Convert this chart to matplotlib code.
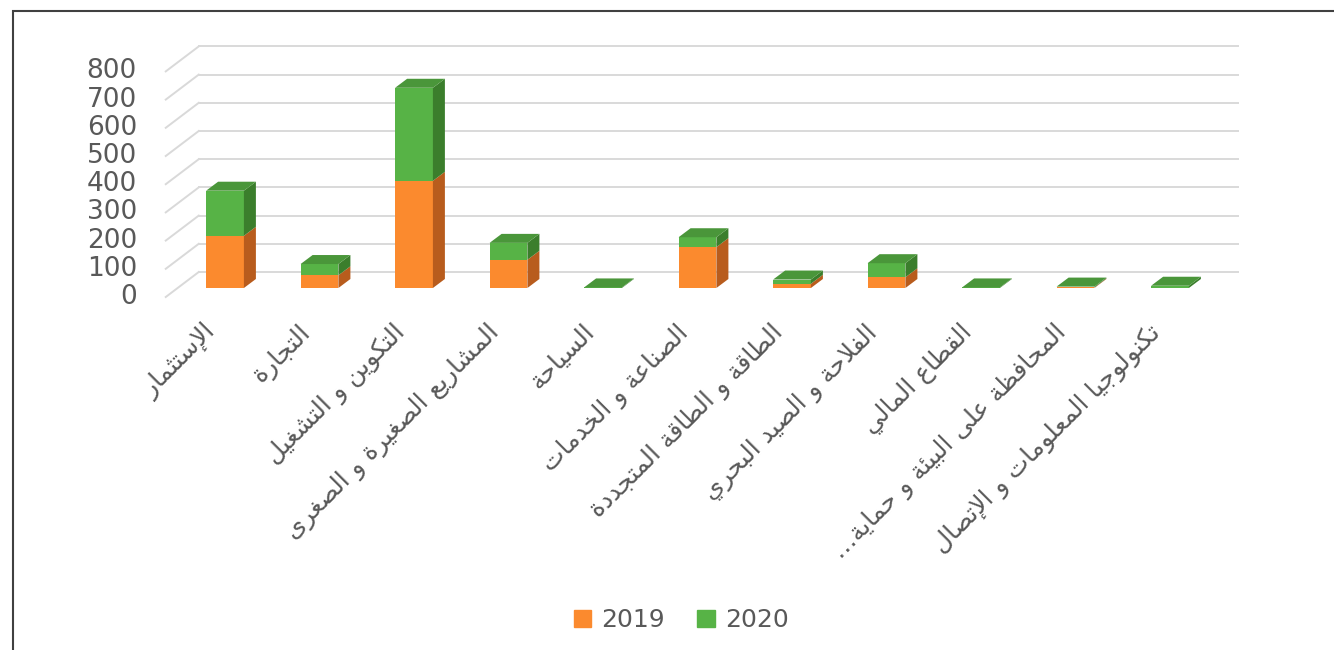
import matplotlib
matplotlib.use("Agg")
import matplotlib.pyplot as plt
from matplotlib.patches import Polygon, Patch, Rectangle

categories = [
    "الإستثمار",
    "التجارة",
    "التكوين و التشغيل",
    "المشاريع الصغيرة و الصغرى",
    "السياحة",
    "الصناعة و الخدمات",
    "الطاقة و الطاقة المتجددة",
    "الفلاحة و الصيد البحري",
    "القطاع المالي",
    "المحافظة على البيئة و حماية…",
    "تكنولوجيا المعلومات و الإتصال",
]
series_names = ["2019", "2020"]
values_2019 = [185, 45, 380, 100, 0, 145, 15, 38, 0, 2, 0]
values_2020 = [160, 40, 330, 60, 2, 35, 15, 50, 2, 3, 8]
y_ticks = [0, 100, 200, 300, 400, 500, 600, 700, 800]

orange = "#FB8A2E"
orange_side = "#B85C1D"
green = "#57B346"
green_top = "#4A963A"
green_side = "#3B7E2C"
text_gray = "#595959"


# --- tiny arabic shaper (matplotlib 3.10 does no shaping) ---
_counts = [1, 2, 2, 2, 2, 4, 2, 4, 2, 4, 4, 4, 4, 4, 2, 2, 2, 2, 4, 4, 4, 4, 4, 4, 4, 4,
           4, 4, 4, 4, 4, 4, 4, 2, 2, 4]
_codes = list(range(0x621, 0x63B)) + list(range(0x641, 0x64B))
FORMS = {}
_pos = 0xFE80
for cp, n in zip(_codes, _counts):
    FORMS[chr(cp)] = (_pos, n)
    _pos += n
LAM_ALEF = {"ا": 0xFEFB, "إ": 0xFEF9, "أ": 0xFEF7, "آ": 0xFEF5}


def shape(text):
    tokens = []
    i = 0
    while i < len(text):
        c = text[i]
        if c == "ل" and i + 1 < len(text) and text[i + 1] in LAM_ALEF:
            tokens.append((LAM_ALEF[text[i + 1]], 2))
            i += 2
            continue
        if c in FORMS:
            tokens.append(FORMS[c])
        else:
            tokens.append((c, 0))
        i += 1
    out = []
    for k, (base, n) in enumerate(tokens):
        if n == 0:
            out.append(base)
            continue
        prev_j = k > 0 and tokens[k - 1][1] == 4 and n >= 2
        next_j = n == 4 and k + 1 < len(tokens) and tokens[k + 1][1] >= 2
        if n == 4:
            off = 3 if (prev_j and next_j) else 1 if prev_j else 2 if next_j else 0
        elif n == 2:
            off = 1 if prev_j else 0
        else:
            off = 0
        out.append(chr(base + off))
    return "".join(reversed(out))


W, H = 1334, 650
fig = plt.figure(figsize=(W / 100, H / 100), dpi=100)
ax = fig.add_axes([177.75 / W, 362 / H, 1039.5 / W, 225.6 / H])
ax.set_xlim(-0.5, 10.5)
ax.set_ylim(0, 800)
ax.axis("off")

sx = 1039.5 / 11      # px per category
sy = 225.6 / 800      # px per unit
ddx, ddy = 12 / sx, 9 / sy   # bar depth
w = 0.4
x = list(range(len(categories)))

# back wall grid + floor diagonals
for v in y_ticks:
    bx, by = -0.5 + 21 / sx, v + 16 / sy
    ax.plot([bx, 10.5 + 21 / sx], [by, by], color="#D9D9D9", lw=1.4, clip_on=False, zorder=0)
    ax.plot([-0.5 - 12 / sx, bx], [v - 9 / sy, by], color="#D9D9D9", lw=1.4, clip_on=False, zorder=0)
    ax.text((137 - 225) / sx, v - 9 / sy, str(v), ha="right", va="center",
            fontsize=19, color=text_gray)

ax.bar(x, values_2019, width=w, color=orange, zorder=2, clip_on=False)
ax.bar(x, values_2020, width=w, bottom=values_2019, color=green, zorder=2, clip_on=False)

for xi, a, b in zip(x, values_2019, values_2020):
    r = xi + w / 2
    for y0, y1, col in [(0, a, orange_side), (a, a + b, green_side)]:
        if y1 > y0:
            ax.add_patch(Polygon([(r, y0), (r + ddx, y0 + ddy), (r + ddx, y1 + ddy), (r, y1)],
                                 closed=True, facecolor=col, edgecolor="none", zorder=2, clip_on=False))
    top = a + b
    ax.add_patch(Polygon([(xi - w / 2, top), (r, top), (r + ddx, top + ddy), (xi - w / 2 + ddx, top + ddy)],
                         closed=True, facecolor=green_top, edgecolor="none", zorder=2, clip_on=False))

for xi, lab in zip(x, categories):
    ax.text(xi - 4 / sx, -32 / sy, shape(lab), rotation=45, ha="right", va="top",
            fontsize=18, color=text_gray, family="DejaVu Sans")

fig.legend(handles=[Patch(color=orange), Patch(color=green)], labels=series_names,
           loc="center", bbox_to_anchor=(681 / W, 1 - 620 / H), ncol=2, frameon=False,
           fontsize=18, handlelength=0.7, handleheight=0.7, columnspacing=1.3,
           handletextpad=0.4, labelcolor=text_gray)

fig.patches.append(Rectangle((12.5 / W, -0.1), 2, 1.1 - 11.5 / H, transform=fig.transFigure,
                             fill=False, edgecolor="#404040", lw=1.5))

fig.savefig("out.png", dpi=100)
